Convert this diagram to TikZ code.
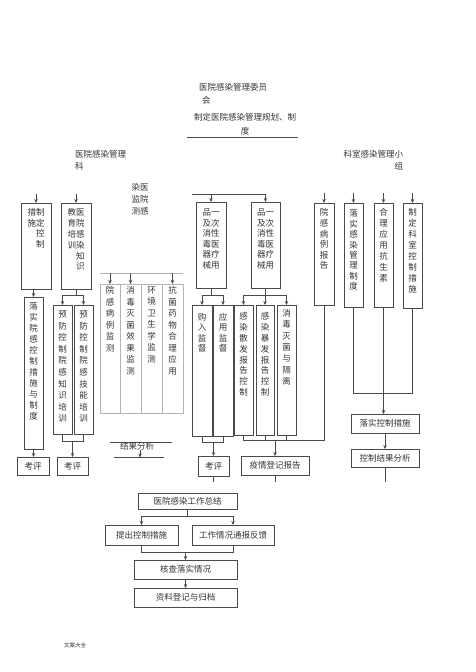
\documentclass[tikz,border=0pt]{standalone}
\usepackage{fontspec}
\setmainfont{Noto Sans CJK SC}
\usetikzlibrary{arrows.meta}
\definecolor{lc}{HTML}{4A4A4A}
\definecolor{tc}{HTML}{333333}
\definecolor{mc}{HTML}{B4B4B4}
\tikzset{
 bx/.style={draw=lc, line width=1pt, inner sep=0pt, outer sep=0pt, text=tc},
 mbx/.style={draw=mc, line width=0.8pt, inner sep=0pt, outer sep=0pt, text=tc},
 ln/.style={draw=lc, line width=0.9pt},
 mln/.style={draw=mc, line width=0.8pt},
 arr/.style={ln, -{Stealth[length=4pt,width=3.5pt]}},
 lbl/.style={text=tc, inner sep=0pt, outer sep=0pt, font=\fontsize{8.5}{12}\selectfont},
}
% vertical-text box: style, name, x1, y1, x2, y2, top pad, line skip, text
\newcommand\mkbox[9]{%
 \pgfmathsetmacro\mybw{#5-#3}\pgfmathsetmacro\mybh{#6-#4}%
 \pgfmathsetmacro\mycx{(#3+#5)/2}\pgfmathsetmacro\mycy{(#4+#6)/2}%
 \node[#1,minimum width=\mybw pt,minimum height=\mybh pt] (#2) at (\mycx,\mycy)
  {\parbox[c][\mybh pt][t]{\mybw pt}{\centering\fontsize{8.5}{#8}\selectfont\vspace*{#7pt}#9\par}};}
% horizontal-text box: name, x1, y1, x2, y2, text
\newcommand\mkhbox[6]{%
 \pgfmathsetmacro\mybw{#4-#2}\pgfmathsetmacro\mybh{#5-#3}%
 \pgfmathsetmacro\mycx{(#2+#4)/2}\pgfmathsetmacro\mycy{(#3+#5)/2}%
 \node[bx,minimum width=\mybw pt,minimum height=\mybh pt,font=\fontsize{8.5}{10}\selectfont] (#1) at (\mycx,\mycy) {#6};}
\begin{document}
\begin{tikzpicture}[x=1pt,y=-1pt]
\useasboundingbox[fill=white] (0,0) rectangle (475,672);

% headers
\node[lbl, anchor=north west, align=left, font=\fontsize{8.5}{13}\selectfont] (com) at (199,83.7) {医院感染管理委员\\\hspace{3pt}会};
\node[lbl, anchor=north, align=center, font=\fontsize{8.5}{14}\selectfont] (plan) at (245,113.7) {制定医院感染管理规划、制\\度};
\coordinate (hl1) at (187,137); \coordinate (hl2) at (298,137);
\draw[ln, line width=0.6pt] (hl1) -- (hl2);
\node[lbl, anchor=north west, align=left] (dept) at (75,150.7) {医院感染管理\\科};
\node[lbl, anchor=north east, align=right] (grp) at (403,150.7) {科室感染管理小\\组};
\node[lbl, anchor=north, align=center] (mon) at (140,183.7) {染医\\监院\\测感};

% left section
\mkbox{bx}{L1}{21}{203}{51}{289}{5.7}{10.5}{措制\\施定\\\hphantom{措}控\\\hphantom{措}制}
\mkbox{bx}{L2}{61}{203}{91}{289}{5.7}{10.8}{教医\\育院\\培感\\训染\\\hphantom{教}知\\\hphantom{教}识}
\coordinate (lt) at (0,194);
\draw[arr] (L1.north |- lt) -- (L1.north);
\draw[arr] (L2.north |- lt) -- (L2.north);
\mkbox{bx}{L3}{24}{297}{43}{449}{5.7}{11}{落\\实\\院\\感\\控\\制\\措\\施\\与\\制\\度}
\mkbox{bx}{L4}{53}{305}{72}{434}{5.7}{11.6}{预\\防\\控\\制\\院\\感\\知\\识\\培\\训}
\mkbox{bx}{L5}{74}{305}{93}{434}{5.7}{11.6}{预\\防\\控\\制\\院\\感\\技\\能\\培\\训}
\draw[arr] (L3.north |- L1.south) -- (L3.north);
\draw[ln] (L2.south) -- ++(0,6) coordinate (l2b);
\draw[ln] (L4.north |- l2b) -- (L5.north |- l2b);
\draw[arr] (L4.north |- l2b) -- (L4.north);
\draw[arr] (L5.north |- l2b) -- (L5.north);
\mkhbox{K1}{17}{457}{49}{475}{考评}
\mkhbox{K2}{57}{457}{88}{475}{考评}
\draw[arr] (L3.south) -- (L3.south |- K1.north);
\draw[ln] (L4.south) -- ++(0,7) coordinate (l4b) -| (L5.south);
\draw[arr] (K2.north |- l4b) -- (K2.north);

% monitoring
\mkbox{mbx}{M1}{100}{284}{120}{413}{2.7}{11.5}{院\\感\\病\\例\\监\\测}
\mkbox{mbx}{M2}{120}{284}{141}{413}{2.7}{11.5}{消\\毒\\灭\\菌\\效\\果\\监\\测}
\mkbox{mbx}{M3}{141}{284}{162}{413}{2.7}{11.5}{环\\境\\卫\\生\\学\\监\\测}
\mkbox{mbx}{M4}{162}{284}{183}{413}{2.7}{11.5}{抗\\菌\\药\\物\\合\\理\\应\\用}
\coordinate (ml1) at (100,273); \coordinate (ml2) at (183,273);
\draw[mln] (ml1) -- (ml2);
\draw[arr] (M1.north |- ml1) -- (M1.north);
\draw[arr] (M2.north |- ml1) -- (M2.north);
\draw[arr] (M4.north |- ml1) -- (M4.north);
\coordinate (ra1) at (110,442); \coordinate (ra2) at (172,442);
\draw[ln, line width=0.6pt] (ra1) -- (ra2);
\node[lbl] (res) at (137,446.5) {结果分析};
\coordinate (rb) at (140,457.5);
\coordinate (rb1) at (114,457.5); \coordinate (rb2) at (164,457.5);
\draw[arr] (res.south -| rb) -- (rb);
\draw[ln, line width=1.4pt] (rb1) -- (rb2);

% middle section
\coordinate (mt1) at (192,194); \coordinate (mt2) at (266,194);
\draw[ln] (mt1) -- (mt2);
\mkbox{bx}{A}{196}{202}{226}{288}{6.7}{10.6}{品一\\及次\\消性\\毒医\\器疗\\械用}
\mkbox{bx}{B}{251}{202}{280}{288}{6.7}{10.6}{品一\\及次\\消性\\毒医\\器疗\\械用}
\draw[arr] (A.north |- mt1) -- (A.north);
\draw[arr] (B.north |- mt1) -- (B.north);
\mkbox{bx}{P1}{192}{305}{212}{436}{8.2}{10.4}{购\\入\\监\\督}
\mkbox{bx}{P2}{213}{305}{233}{436}{8.2}{10.4}{应\\用\\监\\督}
\mkbox{bx}{Q1}{234}{305}{253}{435}{7.7}{10.8}{感\\染\\散\\发\\报\\告\\控\\制}
\mkbox{bx}{Q2}{256}{305}{274}{435}{7.7}{10.8}{感\\染\\暴\\发\\报\\告\\控\\制}
\mkbox{bx}{Q3}{277}{305}{296}{435}{4.2}{11.4}{消\\毒\\灭\\菌\\与\\隔\\离}
\draw[ln] (A.south) -- ++(0,7) coordinate (ab);
\draw[ln] (P1.north |- ab) -- (P2.north |- ab);
\draw[arr] (P1.north |- ab) -- (P1.north);
\draw[arr] (P2.north |- ab) -- (P2.north);
\draw[ln] (B.south) -- ++(0,7) coordinate (bb);
\draw[ln] (Q1.north |- bb) -- (Q3.north |- bb);
\draw[arr] (Q1.north |- bb) -- (Q1.north);
\draw[arr] (Q2.north |- bb) -- (Q2.north);
\draw[arr] (Q3.north |- bb) -- (Q3.north);
\mkhbox{K3}{198}{456}{229}{476}{考评}
\mkhbox{E}{241}{456}{309}{475}{疫情登记报告}
\draw[ln] (P1.south) -- ++(0,6) coordinate (pb) -| (P2.south);
\draw[arr] (K3.north |- pb) -- (K3.north);

% right section
\mkbox{bx}{R1}{314}{203}{334}{305}{5.7}{10.6}{院\\感\\病\\例\\报\\告}
\mkbox{bx}{R2}{344}{203}{363}{307}{6.7}{10.4}{落\\实\\感\\染\\管\\理\\制\\度}
\mkbox{bx}{R3}{374}{203}{393}{307}{5.7}{11}{合\\理\\应\\用\\抗\\生\\素}
\mkbox{bx}{R4}{403}{203}{422}{308}{5.7}{10.9}{制\\定\\科\\室\\控\\制\\措\\施}
\coordinate (rt) at (0,193);
\draw[arr] (R1.north |- rt) -- (R1.north);
\draw[arr] (R2.north |- rt) -- (R2.north);
\draw[arr] (R3.north |- rt) -- (R3.north);
\draw[arr] (R4.north |- rt) -- (R4.north);
\coordinate (qb) at (0,440);
\draw[ln] (Q1.south) -- (Q1.south |- qb) -- (R1.south |- qb) -- (R1.south);
\draw[ln] (Q2.south) -- (Q2.south |- qb);
\draw[ln] (Q3.south) -- (Q3.south |- qb);
\draw[arr] (E.north |- qb) -- (E.north);
\draw[ln] (R2.south) -- ++(0,86) -| (R4.south);
\mkhbox{C1}{351}{414}{419}{433}{落实控制措施}
\mkhbox{C2}{351}{449}{419}{467}{控制结果分析}
\draw[arr] (R3.south) -- (R3.south |- C1.north);
\draw[arr] (C1.south) -- (C2.north);
\draw[ln] (K3.south) -- ++(0,6);
\draw[ln] (E.south) -- ++(0,7);
\draw[ln] (C2.south) -- ++(0,15);

% bottom flow
\mkhbox{S1}{138}{493}{237}{509}{医院感染工作总结}
\mkhbox{S2}{105}{525}{178}{545}{提出控制措施}
\mkhbox{S3}{192}{525}{274}{545}{工作情况通报反馈}
\mkhbox{S4}{134}{560}{237}{579}{核查落实情况}
\mkhbox{S5}{134}{588}{237}{607}{资料登记与归档}
\draw[ln] (S1.south) -- ++(0,7) coordinate (s1b);
\draw[ln] (S2.north |- s1b) -- (S3.north |- s1b);
\draw[arr] (S2.north |- s1b) -- (S2.north);
\draw[arr] (S3.north |- s1b) -- (S3.north);
\draw[ln] (S2.south) -- ++(0,7) coordinate (s2b) -| (S3.south);
\draw[arr] (S4.north |- s2b) -- (S4.north);
\draw[arr] (S4.south) -- (S5.north);

\node[lbl, font=\fontsize{5.5}{6}\selectfont] (ft) at (75,645) {文案大全};
\end{tikzpicture}
\end{document}
